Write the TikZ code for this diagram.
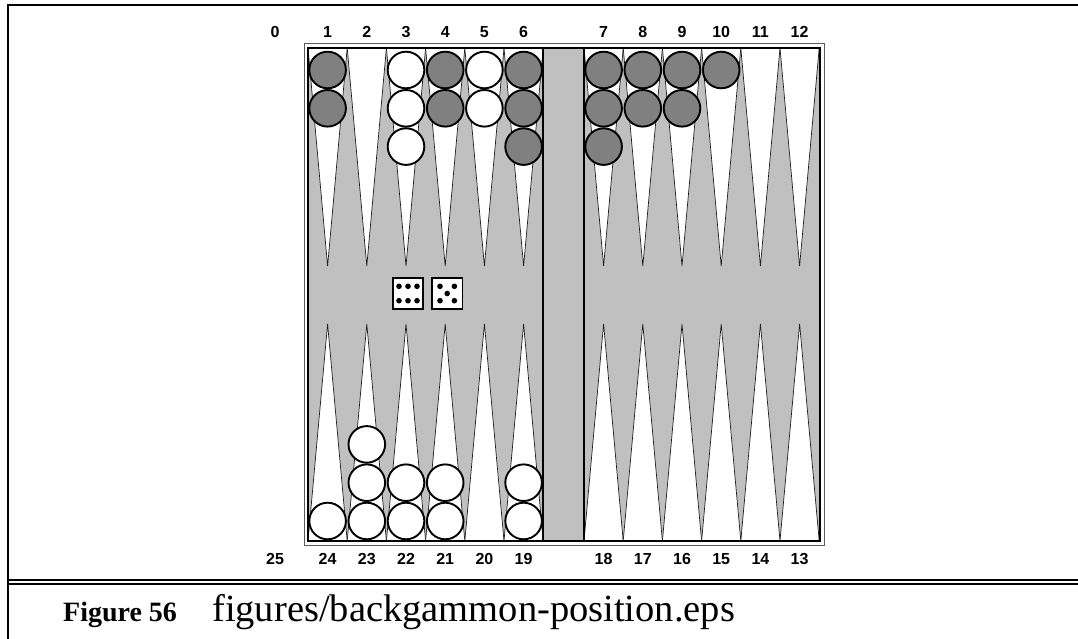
\documentclass[tikz,border=0pt]{standalone}
\usepackage{fontspec}
\setmainfont{Liberation Serif}
\setsansfont{Liberation Sans}
\usetikzlibrary{positioning}
\definecolor{boardGray}{RGB}{192,192,192}
\definecolor{darkChecker}{RGB}{128,128,128}
\definecolor{pointLine}{RGB}{30,30,30}
\definecolor{rimGray}{RGB}{90,90,90}

\begin{document}
\begin{tikzpicture}[
        x=1pt, y=-1pt,
        numlabel/.style={font=\sffamily\bfseries\fontsize{16}{18}\selectfont, inner sep=0pt},
        pointtri/.style={fill=white, draw=pointLine, line width=0.7pt, line join=miter},
        darkchk/.style={circle, draw=black, line width=1.9pt, fill=darkChecker, minimum size=36.6pt, inner sep=0pt},
        lightchk/.style={circle, draw=black, line width=1.9pt, fill=white, minimum size=36.6pt, inner sep=0pt},
        die/.style={rectangle, draw=black, line width=1.8pt, fill=white, minimum size=30.4pt, inner sep=0pt},
        pip/.style={circle, fill=black, minimum size=5.6pt, inner sep=0pt}
    ]
    \useasboundingbox (0,0) rectangle (1078,639);

    % Page frame
    \draw[line width=2pt] (7.7,639) -- (7.7,5) -- (1078,5);
    \draw[line width=2pt] (7.7,579.8) -- (1078,579.8);
    \draw[line width=1.6pt] (7.7,583.7) -- (1078,583.7);

    % Board
    \fill[boardGray] (308,48) rectangle (820,541);
    \foreach \i in {1,...,12} {
        \pgfmathsetmacro\xl{\i<7 ? 308+(\i-1)*39.2 : 584+(\i-7)*39.2}
        \pgfmathsetmacro\xr{\xl+39.2}
        \pgfmathsetmacro\xc{\xl+19.6}
        \draw[pointtri] (\xl,48) -- (\xr,48) -- (\xc,266) -- cycle;
        \draw[pointtri] (\xl,541) -- (\xr,541) -- (\xc,324) -- cycle;
    }
    \fill[boardGray] (543,48) rectangle (584,541);
    \draw[line width=1.8pt] (543,48) -- (543,541);
    \draw[line width=1.8pt] (584,48) -- (584,541);
    \draw[line width=0.8pt, draw=rimGray] (304,43) rectangle (824,545);
    \draw[line width=2pt] (308,48) rectangle (820,541);

    % Checkers
    \foreach \p/\n/\s in {1/2/darkchk, 3/3/lightchk, 4/2/darkchk, 5/2/lightchk, 6/3/darkchk,
                          7/3/darkchk, 8/2/darkchk, 9/2/darkchk, 10/1/darkchk} {
        \pgfmathsetmacro\cx{\p<7 ? 308+(\p-0.5)*39.2 : 584+(\p-6.5)*39.2}
        \foreach \k in {1,...,\n}
            \node[\s] (top\p-\k) at (\cx, {70+(\k-1)*38.3}) {};
    }
    \foreach \p/\n in {24/1, 23/3, 22/2, 21/2, 19/2} {
        \pgfmathsetmacro\cx{308+(24.5-\p)*39.2}
        \foreach \k in {1,...,\n}
            \node[lightchk] (bot\p-\k) at (\cx, {521-(\k-1)*38.3}) {};
    }

    % Dice
    \node[die] (dieSix) at (408,293.5) {};
    \node[die, right=7pt of dieSix] (dieFive) {};
    \foreach \dx in {-9,0,9}
        \foreach \dy in {-7.2,7.2}
            \node[pip] at ([shift={(\dx,\dy)}]dieSix.center) {};
    \foreach \dx/\dy in {-7.2/-7.2, 7.2/-7.2, 0/0, -7.2/7.2, 7.2/7.2}
        \node[pip] at ([shift={(\dx,\dy)}]dieFive.center) {};

    % Point numbers
    \node[numlabel] (numZero) at (275,31.7) {0};
    \node[numlabel] (numTwentyFive) at (275,559) {25};
    \foreach \i in {1,...,12} {
        \pgfmathsetmacro\xc{\i<7 ? 308+(\i-0.5)*39.2 : 584+(\i-6.5)*39.2}
        \pgfmathtruncatemacro\j{25-\i}
        \node[numlabel] (numTop\i) at (\xc,31.7) {\i};
        \node[numlabel] (numBot\j) at (\xc,559) {\j};
    }

    % Caption
    \node[anchor=base west, inner sep=0pt, font=\bfseries\fontsize{28}{32}\selectfont] (figNum) at (63,621) {Figure 56};
    \node[anchor=base west, inner sep=0pt, font=\fontsize{38.5}{42}\selectfont] (figFile) at (212,621) {figures/backgammon-position.eps};
\end{tikzpicture}
\end{document}
